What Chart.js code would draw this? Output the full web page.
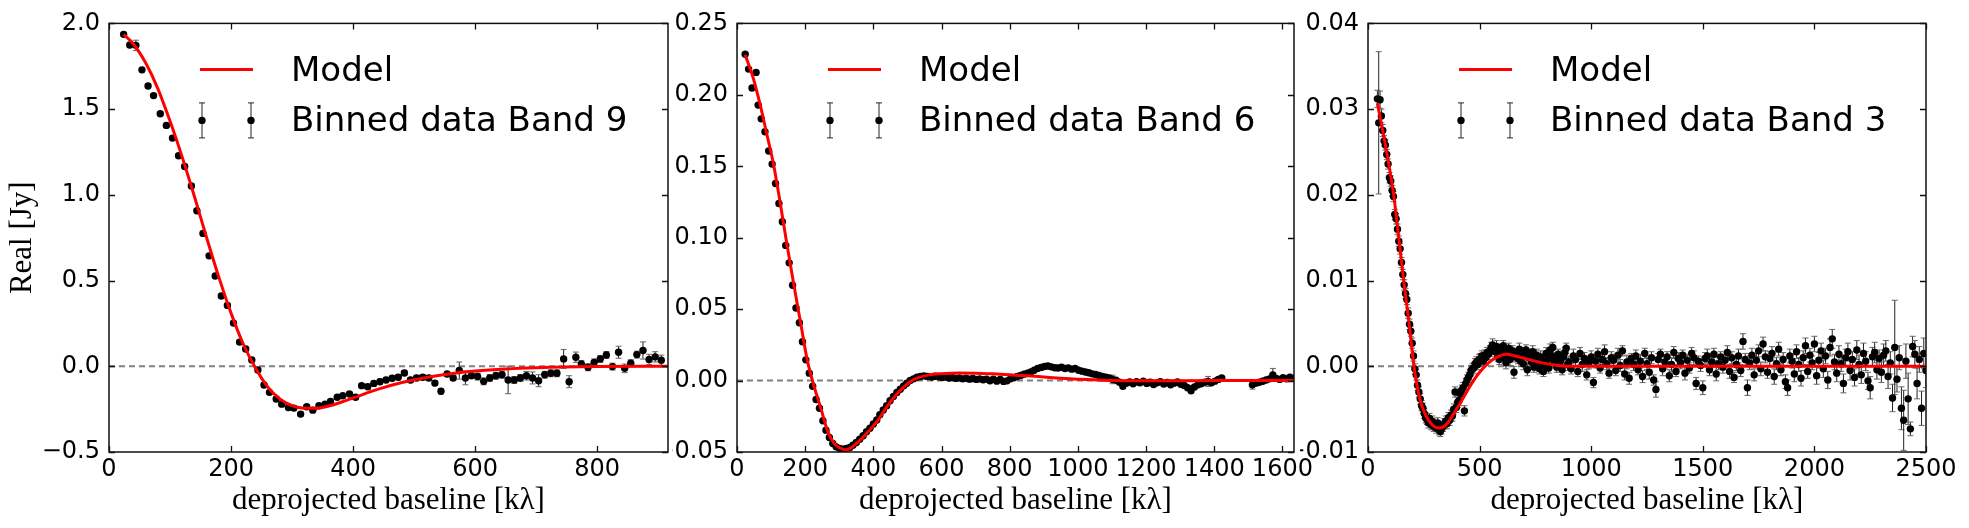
<!DOCTYPE html>
<html lang="en">
<head>
<meta charset="utf-8">
<title>Real part vs deprojected baseline</title>
<script src="https://cdn.jsdelivr.net/npm/chart.js@4.4.1/dist/chart.umd.min.js"></script>
<style>
  html, body { margin: 0; padding: 0; background: #fff; }
  body { position: relative; width: 1969px; height: 528px; overflow: hidden; }
  canvas { position: absolute; top: 0; }
</style>
</head>
<body>
<canvas id="band9" width="680" height="528" style="left:0px"></canvas>
<canvas id="band6" width="660" height="528" style="left:672px"></canvas>
<canvas id="band3" width="669" height="528" style="left:1300px"></canvas>
<script>
// ---- Band 9 ----
var b9X = [24,34,44,54,64,73,84,94,104,114,124,135,144,154,164,174,184,194,204,214,224,234,244,254,263,274,283,294,303,314,324,334,344,354,363,374,383,394,404,414,424,434,444,454,464,474,484,494,504,514,524,534,544,554,564,574,584,594,604,614,624,634,644,654,664,674,684,694,704,714,724,734,745,754,765,774,785,795,805,815,825,835,845,855,865,875,885,895,905];
var b9Y = [1.936,1.874,1.872,1.729,1.635,1.579,1.473,1.405,1.331,1.228,1.165,1.052,0.907,0.775,0.644,0.527,0.410,0.355,0.252,0.141,0.101,0.037,-0.021,-0.109,-0.152,-0.191,-0.221,-0.240,-0.244,-0.279,-0.236,-0.256,-0.230,-0.221,-0.205,-0.181,-0.172,-0.162,-0.181,-0.113,-0.119,-0.100,-0.090,-0.080,-0.070,-0.064,-0.039,-0.080,-0.068,-0.064,-0.068,-0.098,-0.146,-0.045,-0.068,-0.025,-0.068,-0.055,-0.060,-0.088,-0.068,-0.055,-0.049,-0.080,-0.080,-0.068,-0.055,-0.068,-0.084,-0.049,-0.041,-0.041,0.043,-0.090,0.053,0.014,-0.006,0.023,0.043,0.066,-0.002,0.082,-0.012,0.018,0.068,0.092,0.040,0.055,0.035];
var b9E = [0.012,0.015,0.03,0.012,0.012,0.012,0.012,0.012,0.012,0.012,0.012,0.012,0.012,0.012,0.012,0.012,0.012,0.012,0.012,0.012,0.012,0.012,0.012,0.012,0.012,0.012,0.012,0.012,0.012,0.012,0.012,0.012,0.012,0.012,0.012,0.012,0.012,0.012,0.012,0.012,0.015,0.015,0.015,0.015,0.015,0.015,0.015,0.015,0.015,0.015,0.015,0.015,0.015,0.015,0.015,0.05,0.04,0.015,0.02,0.02,0.02,0.02,0.02,0.08,0.02,0.02,0.025,0.035,0.035,0.02,0.02,0.02,0.055,0.035,0.03,0.02,0.02,0.02,0.02,0.02,0.02,0.035,0.025,0.02,0.02,0.05,0.03,0.03,0.03];
var m9X = [24,40,60,80,100,120,140,160,180,200,220,240,260,280,300,320,340,360,380,400,440,480,520,560,600,650,700,800,916];
var m9Y = [1.935,1.88,1.77,1.62,1.43,1.22,0.99,0.75,0.52,0.31,0.13,-0.01,-0.12,-0.19,-0.23,-0.245,-0.245,-0.232,-0.21,-0.185,-0.135,-0.095,-0.065,-0.043,-0.028,-0.016,-0.009,-0.002,0.0];
var b9XTicks = [0,200,400,600,800];
var b9XLabels = ['0','200','400','600','800'];
var b9YTicks = [-0.5,0,0.5,1,1.5,2];
var b9YLabels = ['\u22120.5','0.0','0.5','1.0','1.5','2.0'];

// ---- Band 6 ----
var b6X = [24,34,44,56,62,71,82,93,103,113,123,133,143,153,163,173,183,192,202,212,222,232,242,252,261,271,281,291,301,311,321,331,340,350,360,370,380,390,400,410,419,429,439,449,459,469,479,489,498,508,518,528,538,548,558,
  572,582,592,602,612,622,632,642,652,662,672,682,692,702,712,722,732,742,752,762,772,782,792,802,812,822,832,842,852,862,872,882,892,902,912,922,932,942,952,962,972,982,992,1002,1012,1022,1032,1042,1052,1062,1072,1082,1092,1102,1112,1122,1132,1142,1152,1162,1172,1182,1192,1202,1212,1222,1232,1242,1252,1262,1272,1282,1292,1302,1312,1322,1332,1342,1352,1362,1372,1382,1392,1402,1412,1422,
  1512,1522,1532,1542,1552,1562,1572,1582,1592,1602,1612,1622,1632];
var b6Y = [0.2284,0.2180,0.2048,0.2157,0.1928,0.1832,0.1742,0.1607,0.1515,0.1379,0.1239,0.1112,0.0946,0.0824,0.0667,0.0508,0.0405,0.0272,0.0145,0.0052,-0.0040,-0.0133,-0.0194,-0.0281,-0.0347,-0.0398,-0.0440,-0.0464,-0.0475,-0.0480,-0.0475,-0.0468,-0.0452,-0.0433,-0.0410,-0.0386,-0.0358,-0.0333,-0.0304,-0.0276,-0.0239,-0.0206,-0.0176,-0.0141,-0.0112,-0.0084,-0.0061,-0.0037,-0.0019,0.0000,0.0012,0.0023,0.0028,0.0033,0.0028,
  0.0025,0.0030,0.0027,0.0022,0.0025,0.0018,0.0021,0.0015,0.0019,0.0012,0.0016,0.0010,0.0014,0.0008,0.0012,0.0006,0.0010,-0.0002,0.0009,-0.0004,0.0007,-0.0006,-0.0002,0.0012,0.0020,0.0028,0.0035,0.0045,0.0052,0.0060,0.0072,0.0085,0.0092,0.0098,0.0102,0.0096,0.0090,0.0088,0.0093,0.0084,0.0089,0.0080,0.0084,0.0072,0.0066,0.0060,0.0055,0.0047,0.0042,0.0035,0.0028,0.0024,0.0018,0.0008,0.0003,-0.0012,-0.0040,-0.0018,-0.0010,-0.0022,-0.0008,-0.0015,-0.0005,-0.0020,-0.0012,-0.0028,-0.0016,-0.0008,-0.0024,-0.0014,-0.0030,-0.0018,-0.0010,-0.0026,-0.0035,-0.0050,-0.0072,-0.0045,-0.0030,-0.0022,-0.0012,-0.0006,-0.0015,-0.0004,0.0008,0.0018,
  -0.0030,-0.0018,-0.0012,-0.0005,0.0004,0.0012,0.0040,0.0015,0.0008,0.0020,0.0012,0.0024,0.0015];
var b6E = [0.001,0.001,0.001,0.001,0.0008,0.0008,0.0008,0.0008,0.0008,0.0008,0.0008,0.0008,0.0008,0.0008,0.0008,0.0008,0.0008,0.0008,0.0008,0.0008,0.0008,0.0008,0.0008,0.0008,0.0008,0.0008,0.0008,0.0008,0.0008,0.0008,0.0008,0.0008,0.0008,0.0008,0.0008,0.0008,0.0008,0.0008,0.0008,0.0008,0.0008,0.0008,0.0008,0.0008,0.0008,0.0008,0.0008,0.0008,0.0008,0.0008,0.0008,0.0008,0.0008,0.0008,0.0008,
  0.0008,0.0008,0.0008,0.0008,0.0008,0.0008,0.0008,0.0008,0.0008,0.0008,0.0008,0.0008,0.0008,0.0008,0.0008,0.0008,0.0008,0.0008,0.0008,0.0008,0.0008,0.0008,0.0008,0.0008,0.0008,0.0008,0.0008,0.0008,0.0008,0.0008,0.0008,0.0008,0.0008,0.0008,0.0008,0.0008,0.0008,0.0008,0.0008,0.0008,0.0008,0.0008,0.0008,0.0008,0.0008,0.0008,0.0008,0.0008,0.0008,0.0008,0.001,0.001,0.001,0.003,0.001,0.001,0.0015,0.001,0.001,0.001,0.001,0.001,0.001,0.001,0.001,0.001,0.001,0.001,0.001,0.001,0.001,0.001,0.001,0.001,0.001,0.0012,0.0012,0.0012,0.001,0.001,0.001,0.0035,0.001,0.001,0.001,0.001,
  0.003,0.001,0.001,0.001,0.001,0.001,0.0045,0.001,0.001,0.001,0.001,0.001,0.001];
var m6X = [24,46,66,86,107,127,147,167,187,206,226,246,265,285,305,320,335,354,374,394,414,433,453,473,493,512,532,560,600,650,700,750,800,850,900,950,1000,1050,1100,1200,1300,1400,1634];
var m6Y = [0.228,0.213,0.195,0.174,0.1515,0.124,0.0946,0.0667,0.040,0.0145,-0.004,-0.0194,-0.0347,-0.044,-0.0475,-0.0485,-0.047,-0.0433,-0.0386,-0.0333,-0.0276,-0.0206,-0.0141,-0.0084,-0.0037,-0.0002,0.002,0.0038,0.0048,0.0053,0.0052,0.0047,0.004,0.0033,0.0025,0.0017,0.001,0.0005,0.0001,-0.0002,-0.0001,0.0,0.0];
var b6XTicks = [0,200,400,600,800,1000,1200,1400,1600];
var b6XLabels = ['0','200','400','600','800','1000','1200','1400','1600'];
var b6YTicks = [-0.05,0,0.05,0.10,0.15,0.20,0.25];
var b6YLabels = ['\u22120.05','0.00','0.05','0.10','0.15','0.20','0.25'];

// ---- Band 3 ----
var b3X = [42,48,54,60,66,72,78,84,90,96,102,108,114,120,126,132,138,144,150,156,162,168,174,180,186,192,198,204,
  210,216,222,228,234,240,246,252,258,264,270,276,282,288,294,300,306,312,318,324,330,336,342,348,354,360,366,372,378,384,390,396,402,408,414,420,426,432,438,444,450,456,462,468,474,480,486,492,498,504,
  510,516,522,528,534,540,546,552,558,564,570,576,582,588,594,600,606,612,618,624,630,636,642,648,654,660,666,672,678,684,690,696,702,708,714,720,726,732,738,744,750,756,762,768,774,780,786,792,798,804,810,816,822,828,834,840,846,852,858,864,870,876,882,888,894,
  900,910,920,930,940,950,960,970,980,990,1000,1010,1020,1030,1040,1050,1060,1070,1080,1090,1100,1110,1120,1130,1140,1150,1160,1170,1180,1190,1200,1210,1220,1230,1240,1250,1260,1270,1280,1290,1300,1310,1320,1330,1340,1350,1360,1370,1380,1390,1400,1410,1420,1430,1440,1450,1460,1470,1480,1490,1500,1510,1520,1530,1540,1550,1560,1570,1580,1590,1600,1610,1620,1630,1640,1650,1660,1670,1680,1690,1700,1710,1720,1730,1740,1750,1760,1770,1780,1790,1800,1810,1820,1830,1840,1850,1860,1870,1880,1890,1900,1910,1920,1930,1940,1950,1960,1970,1980,1990,2000,2010,2020,2030,2040,2050,2060,2070,2080,2090,2100,2110,2120,2130,2140,2150,2160,2170,2180,2190,2200,2210,2220,2230,2240,2250,2260,2270,2280,2290,2300,2310,2320,2330,2340,2350,2360,2370,2380,2390,2400,2410,2420,2430,2440,2450,2460,2470,2480,2490,2500];
var b3Y = [0.0312,0.0284,0.0311,0.0292,0.0275,0.0263,0.0258,0.0247,0.0236,0.0220,0.0216,0.0205,0.0198,0.0177,0.0172,0.0160,0.0146,0.0137,0.0121,0.0107,0.0095,0.0085,0.0078,0.0062,0.0049,0.0041,0.0027,0.0012,
  -0.0003,-0.0010,-0.0022,-0.0030,-0.0038,-0.0046,-0.0049,-0.0055,-0.0060,-0.0062,-0.0066,-0.0061,-0.0068,-0.0064,-0.0070,-0.0069,-0.0072,-0.0066,-0.0074,-0.0076,-0.0073,-0.0070,-0.0067,-0.0064,-0.0067,-0.0060,-0.0063,-0.0057,-0.0058,-0.0050,-0.0030,-0.0048,-0.0042,-0.0040,-0.0032,-0.0028,-0.0025,-0.0052,-0.0020,-0.0016,-0.0013,-0.0010,-0.0005,-0.0003,-0.0002,0.0003,0.0005,0.0002,0.0008,0.0009,
  0.0012,0.0006,0.0013,0.0010,0.0016,0.0014,0.0018,0.0022,0.0025,0.0020,0.0017,0.0023,0.0012,0.0008,0.0015,0.0019,0.0024,0.0010,0.0004,0.0016,0.0021,0.0008,0.0013,0.0018,-0.0007,0.0011,0.0015,0.0009,0.0020,0.0006,0.0012,0.0003,0.0016,0.0019,-0.0004,0.0010,0.0014,0.0005,0.0017,-0.0001,0.0009,0.0013,0.0004,-0.0003,0.0011,0.0006,-0.0006,0.0002,0.0015,0.0008,-0.0002,0.0019,0.0012,0.0022,0.0005,0.0009,-0.0001,0.0014,0.0003,0.0007,-0.0004,0.0011,0.0016,0.0021,0.0002,
  0.0005,-0.0003,0.0012,0.0008,-0.0006,0.0015,0.0002,0.0009,-0.0010,0.0004,
  0.0011,-0.0019,0.0006,0.0014,-0.0002,0.0008,0.0017,0.0003,-0.0008,0.0010,
  0.0007,-0.0005,0.0013,0.0001,0.0018,-0.0009,0.0005,-0.0014,0.0009,0.0002,
  0.0012,-0.0004,0.0006,-0.0012,0.0015,0.0003,-0.0007,0.0010,-0.0016,-0.0027,
  0.0008,0.0014,-0.0003,0.0005,0.0011,-0.0011,0.0002,0.0016,-0.0006,0.0009,
  0.0004,0.0013,-0.0008,0.0007,-0.0002,0.0015,0.0010,-0.0020,0.0006,0.0001,
  -0.0025,0.0009,0.0012,-0.0004,0.0005,0.0014,-0.0009,0.0003,0.0011,-0.0001,
  0.0007,0.0016,-0.0006,0.0010,-0.0013,0.0002,0.0012,-0.0005,0.0029,0.0008,
  -0.0025,0.0004,0.0013,-0.0010,0.0007,0.0018,-0.0003,0.0026,0.0011,-0.0007,
  0.0009,0.0015,-0.0012,0.0003,0.0020,-0.0004,0.0008,-0.0018,-0.0025,0.0012,
  0.0006,-0.0009,0.0017,0.0002,-0.0014,0.0010,0.0024,-0.0006,0.0013,0.0004,
  0.0026,-0.0011,0.0007,0.0018,-0.0003,0.0012,-0.0016,0.0022,0.0032,0.0005,
  -0.0008,0.0014,0.0003,-0.0020,0.0010,0.0017,-0.0005,0.0008,-0.0013,0.0019,
  0.0002,-0.0010,0.0015,0.0006,-0.0017,-0.0025,0.0011,0.0016,-0.0004,0.0009,
  -0.0007,0.0013,0.0018,-0.0012,0.0004,-0.0037,0.0022,-0.0015,0.0010,-0.0049,
  -0.0063,0.0006,-0.0038,-0.0073,0.0023,0.0014,-0.0020,0.0008,-0.0049,0.0015,
  -0.0005];
var b3E = [0.0010,0.0083,0.0010,0.0008,0.0007,0.0006,0.0006,0.0006,0.0006,0.0006,0.0006,0.0006,0.0006,0.0006,0.0006,0.0006,0.0006,0.0006,0.0006,0.0006,0.0006,0.0006,0.0006,0.0006,0.0006,0.0006,0.0006,0.0006,
  0.0006,0.0006,0.0006,0.0006,0.0006,0.0006,0.0006,0.0006,0.0006,0.0006,0.0006,0.0006,0.0006,0.0006,0.0006,0.0006,0.0006,0.0006,0.0006,0.0006,0.0006,0.0006,0.0006,0.0006,0.0006,0.0006,0.0006,0.0006,0.0006,0.0006,0.0006,0.0006,0.0006,0.0006,0.0006,0.0006,0.0006,0.0006,0.0006,0.0006,0.0006,0.0006,0.0006,0.0006,0.0006,0.0006,0.0006,0.0006,0.0006,0.0006,
  0.0006,0.0006,0.0006,0.0006,0.0006,0.0006,0.0006,0.0006,0.0007,0.0006,0.0006,0.0007,0.0006,0.0006,0.0006,0.0007,0.0006,0.0006,0.0007,0.0006,0.0006,0.0007,0.0006,0.0006,0.0007,0.0006,0.0006,0.0006,0.0007,0.0006,0.0006,0.0007,0.0006,0.0006,0.0007,0.0006,0.0006,0.0006,0.0007,0.0006,0.0006,0.0007,0.0006,0.0006,0.0007,0.0006,0.0006,0.0006,0.0007,0.0006,0.0006,0.0007,0.0006,0.0006,0.0007,0.0006,0.0006,0.0006,0.0007,0.0006,0.0006,0.0007,0.0006,0.0006,0.0007,
  0.0007,0.0006,0.0008,0.0007,0.0006,0.0007,0.0008,0.0007,0.0006,0.0007,
  0.0007,0.0006,0.0008,0.0007,0.0006,0.0007,0.0008,0.0007,0.0006,0.0007,
  0.0007,0.0006,0.0008,0.0007,0.0006,0.0007,0.0008,0.0007,0.0006,0.0007,
  0.0007,0.0006,0.0008,0.0007,0.0006,0.0007,0.0008,0.0007,0.0006,0.0009,
  0.0007,0.0006,0.0008,0.0007,0.0006,0.0007,0.0008,0.0007,0.0006,0.0007,
  0.0007,0.0006,0.0008,0.0007,0.0006,0.0007,0.0008,0.0007,0.0006,0.0007,
  0.0008,0.0007,0.0008,0.0007,0.0006,0.0007,0.0008,0.0007,0.0006,0.0007,
  0.0007,0.0008,0.0008,0.0007,0.0006,0.0007,0.0008,0.0007,0.0009,0.0007,
  0.0009,0.0008,0.0008,0.0007,0.0008,0.0007,0.0008,0.0008,0.0007,0.0007,
  0.0008,0.0008,0.0009,0.0007,0.0008,0.0007,0.0008,0.0008,0.0009,0.0008,
  0.0008,0.0009,0.0008,0.0008,0.0009,0.0008,0.0009,0.0008,0.0008,0.0008,
  0.0009,0.0010,0.0009,0.0009,0.0010,0.0009,0.0010,0.0010,0.0011,0.0009,
  0.0010,0.0010,0.0009,0.0011,0.0010,0.0010,0.0011,0.0009,0.0010,0.0011,
  0.0011,0.0010,0.0012,0.0011,0.0010,0.0013,0.0011,0.0012,0.0011,0.0010,
  0.0012,0.0013,0.0012,0.0014,0.0013,0.0016,0.0055,0.0015,0.0014,0.0025,
  0.0035,0.0020,0.0030,0.0008,0.0012,0.0016,0.0018,0.0015,0.0020,0.0018,
  0.0020];
var m3X = [42,80,115,140,160,185,206,230,260,290,320,350,380,420,460,500,540,580,620,660,720,780,850,950,2500];
var m3Y = [0.0307,0.0255,0.0200,0.0145,0.0100,0.0048,0.0,-0.0036,-0.0058,-0.0069,-0.0072,-0.0068,-0.0057,-0.0040,-0.0022,-0.0007,0.0004,0.0011,0.0014,0.0012,0.0008,0.0004,0.0001,0.0,0.0];
var b3XTicks = [0,500,1000,1500,2000,2500];
var b3XLabels = ['0','500','1000','1500','2000','2500'];
var b3YTicks = [-0.01,0,0.01,0.02,0.03,0.04];
var b3YLabels = ['\u22120.01','0.00','0.01','0.02','0.03','0.04'];

var TICK_FONT = { family: 'DejaVu Sans', size: 24 };
var SERIF = 'Liberation Serif';

// error bars, drawn just before the binned points
var errorBars = {
    id: 'errorBars',
    beforeDatasetDraw: function(chart, args) {
        var ds = chart.data.datasets[args.index];
        if (!ds.errors) return;
        var ctx = chart.ctx, a = chart.chartArea;
        var xs = chart.scales.x, ys = chart.scales.y;
        ctx.save();
        ctx.beginPath();
        ctx.rect(a.left, a.top, a.right - a.left, a.bottom - a.top);
        ctx.clip();
        ctx.lineWidth = 1;
        for (var i = 0; i < ds.data.length; i++) {
            var p = ds.data[i], e = ds.errors[i];
            var px = xs.getPixelForValue(p.x);
            var yTop = ys.getPixelForValue(p.y + e);
            var yBot = ys.getPixelForValue(p.y - e);
            ctx.strokeStyle = '#222';
            ctx.beginPath();
            ctx.moveTo(px, yTop); ctx.lineTo(px, yBot);
            ctx.stroke();
            ctx.strokeStyle = '#666';
            ctx.beginPath();
            ctx.moveTo(px - 3, yTop); ctx.lineTo(px + 3, yTop);
            ctx.moveTo(px - 3, yBot); ctx.lineTo(px + 3, yBot);
            ctx.stroke();
        }
        ctx.restore();
    }
};

// box frame, inward ticks on all four sides, legend in the upper part
var frameLegend = {
    id: 'frameLegend',
    afterDraw: function(chart) {
        var ctx = chart.ctx, a = chart.chartArea;
        var xs = chart.scales.x, ys = chart.scales.y;
        ctx.save();
        ctx.strokeStyle = '#111';
        ctx.lineWidth = 1.3;
        ctx.beginPath();
        xs.ticks.forEach(function(t) {
            var p = Math.round(xs.getPixelForValue(t.value)) + 0.5;
            ctx.moveTo(p, a.bottom); ctx.lineTo(p, a.bottom - 6);
            ctx.moveTo(p, a.top); ctx.lineTo(p, a.top + 6);
        });
        ys.ticks.forEach(function(t) {
            var p = Math.round(ys.getPixelForValue(t.value)) + 0.5;
            ctx.moveTo(a.left, p); ctx.lineTo(a.left + 6, p);
            ctx.moveTo(a.right, p); ctx.lineTo(a.right - 6, p);
        });
        ctx.stroke();
        ctx.lineWidth = 1.5;
        ctx.strokeRect(a.left, a.top, a.right - a.left, a.bottom - a.top);

        // legend
        var model = chart.data.datasets[0], binned = chart.data.datasets[1];
        var lx = a.left, ly = a.top;
        ctx.strokeStyle = model.borderColor;
        ctx.lineWidth = 3;
        ctx.beginPath();
        ctx.moveTo(lx + 91, ly + 46); ctx.lineTo(lx + 144, ly + 46);
        ctx.stroke();
        [lx + 93, lx + 142].forEach(function(mx) {
            var my = ly + 97;
            ctx.strokeStyle = '#222';
            ctx.lineWidth = 1;
            ctx.beginPath();
            ctx.moveTo(mx, my - 17.5); ctx.lineTo(mx, my + 17.5);
            ctx.moveTo(mx - 3, my - 17.5); ctx.lineTo(mx + 3, my - 17.5);
            ctx.moveTo(mx - 3, my + 17.5); ctx.lineTo(mx + 3, my + 17.5);
            ctx.stroke();
            ctx.fillStyle = '#000';
            ctx.beginPath();
            ctx.arc(mx, my, 3.7, 0, Math.PI * 2);
            ctx.fill();
        });
        ctx.fillStyle = '#000';
        ctx.font = '34px "DejaVu Sans"';
        ctx.textBaseline = 'alphabetic';
        ctx.textAlign = 'left';
        ctx.fillText(model.label, lx + 182, ly + 58);
        ctx.fillText(binned.label, lx + 182, ly + 108);
        ctx.restore();
    }
};

function pairs(xs, ys) {
    var out = [];
    for (var i = 0; i < xs.length; i++) out.push({ x: xs[i], y: ys[i] });
    return out;
}

var Figura = {
    panels: [
        { id: 'band9', label: 'Binned data Band 9', x: b9X, y: b9Y, e: b9E, mx: m9X, my: m9Y,
          xMax: 916, yMin: -0.5, yMax: 2.0, xTicks: b9XTicks, xLabels: b9XLabels, yTicks: b9YTicks, yLabels: b9YLabels,
          yWidth: 109, padRight: 12, yTitle: 'Real [Jy]' },
        { id: 'band6', label: 'Binned data Band 6', x: b6X, y: b6Y, e: b6E, mx: m6X, my: m6Y,
          xMax: 1634, yMin: -0.05, yMax: 0.25, xTicks: b6XTicks, xLabels: b6XLabels, yTicks: b6YTicks, yLabels: b6YLabels,
          yWidth: 65, padRight: 38, yTitle: null },
        { id: 'band3', label: 'Binned data Band 3', x: b3X, y: b3Y, e: b3E, mx: m3X, my: m3Y,
          xMax: 2500, yMin: -0.01, yMax: 0.04, xTicks: b3XTicks, xLabels: b3XLabels, yTicks: b3YTicks, yLabels: b3YLabels,
          yWidth: 68, padRight: 43, yTitle: null }
    ],

    init: function() {
        for (var i = 0; i < this.panels.length; i++) this.makePanel(this.panels[i]);
    },

    makePanel: function(p) {
        new Chart(document.getElementById(p.id), {
            type: 'scatter',
            data: {
                datasets: [
                    { label: 'Model', type: 'line', data: pairs(p.mx, p.my), borderColor: '#ff0000', borderWidth: 3,
                      pointRadius: 0, fill: false, cubicInterpolationMode: 'monotone' },
                    { label: p.label, data: pairs(p.x, p.y), errors: p.e, pointRadius: 3.7,
                      pointBackgroundColor: '#000', pointBorderWidth: 0, showLine: false },
                    { label: 'zero', type: 'line', data: [{ x: 0, y: 0 }, { x: p.xMax, y: 0 }], borderColor: '#808080',
                      borderWidth: 2, borderDash: [6, 4], pointRadius: 0, fill: false }
                ]
            },
            options: {
                responsive: false,
                animation: false,
                events: [],
                layout: { padding: { left: 0, top: 21, right: p.padRight, bottom: 0 } },
                plugins: { legend: { display: false }, tooltip: { enabled: false } },
                scales: {
                    x: {
                        type: 'linear', min: 0, max: p.xMax,
                        afterBuildTicks: function(s) { s.ticks = p.xTicks.map(function(v) { return { value: v }; }); },
                        afterFit: function(s) { s.height = 76; },
                        grid: { display: false, drawTicks: false },
                        border: { display: false },
                        ticks: { color: '#000', font: TICK_FONT, padding: 3, maxRotation: 0, autoSkip: false,
                                 callback: function(v, i) { return p.xLabels[i]; } },
                        title: { display: true, text: 'deprojected baseline [k\u03bb]', color: '#000',
                                 font: { family: SERIF, size: 31 }, padding: { top: 0, bottom: 9 } }
                    },
                    y: {
                        type: 'linear', min: p.yMin, max: p.yMax,
                        afterBuildTicks: function(s) { s.ticks = p.yTicks.map(function(v) { return { value: v }; }); },
                        afterFit: function(s) { s.width = p.yWidth; },
                        grid: { display: false, drawTicks: false },
                        border: { display: false },
                        ticks: { color: '#000', font: TICK_FONT, padding: 9, autoSkip: false,
                                 callback: function(v, i) { return p.yLabels[i]; } },
                        title: p.yTitle ? { display: true, text: p.yTitle, color: '#000',
                                 font: { family: SERIF, size: 31 }, padding: { top: 4, bottom: 0 } } : { display: false }
                    }
                }
            },
            plugins: [errorBars, frameLegend]
        });
    }
};

Figura.init();
</script>
</body>
</html>
